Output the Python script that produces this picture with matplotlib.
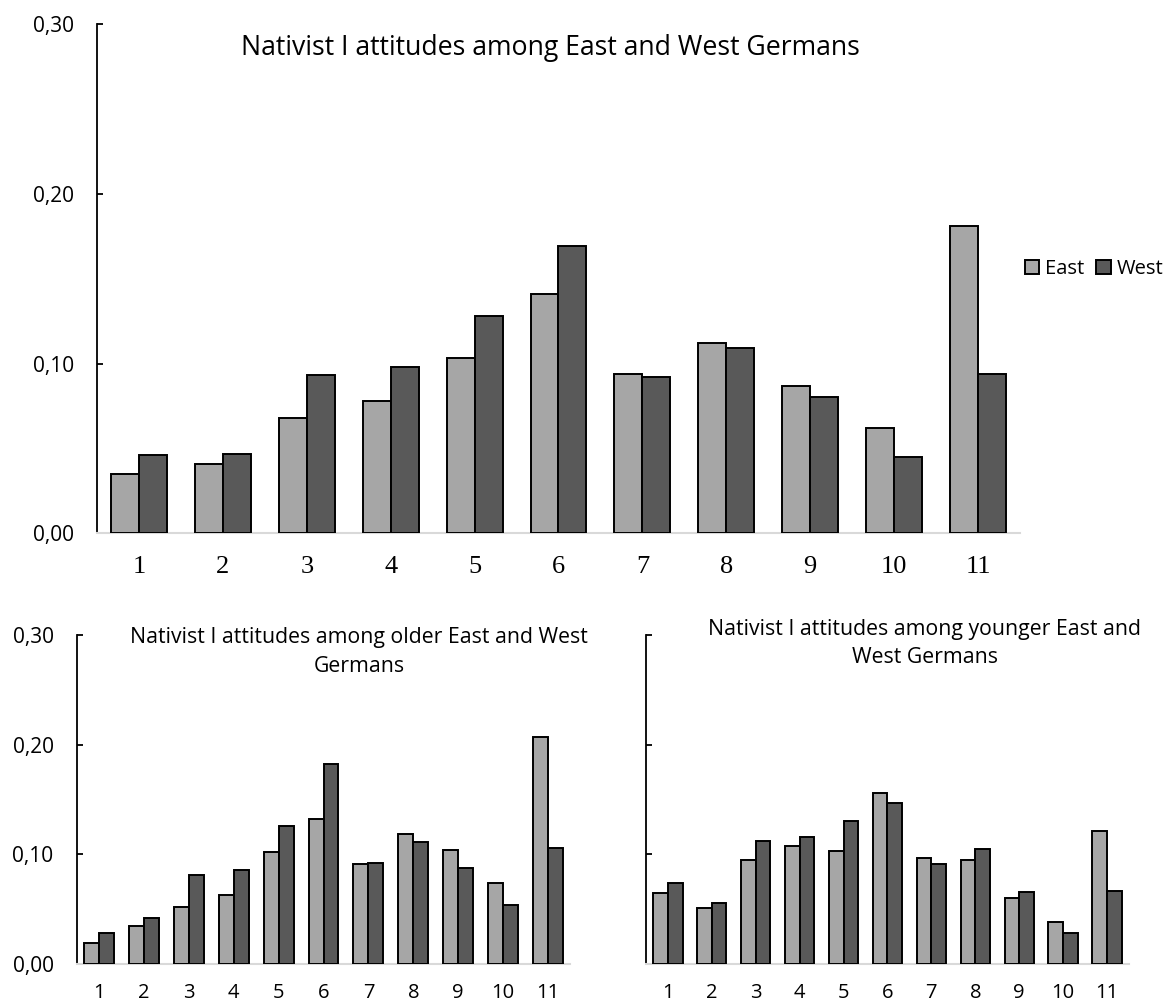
import matplotlib
matplotlib.use("Agg")
import matplotlib.pyplot as plt
from matplotlib.ticker import FuncFormatter
import numpy as np

categories = ["1", "2", "3", "4", "5", "6", "7", "8", "9", "10", "11"]

# all respondents
east_all = [0.035, 0.041, 0.068, 0.078, 0.103, 0.141, 0.094, 0.112, 0.087, 0.062, 0.181]
west_all = [0.046, 0.047, 0.093, 0.098, 0.128, 0.169, 0.092, 0.109, 0.080, 0.045, 0.094]

# older
east_old = [0.019, 0.035, 0.052, 0.063, 0.102, 0.132, 0.091, 0.119, 0.104, 0.074, 0.207]
west_old = [0.028, 0.042, 0.081, 0.086, 0.126, 0.182, 0.092, 0.111, 0.088, 0.054, 0.106]

# younger
east_young = [0.065, 0.051, 0.095, 0.108, 0.103, 0.156, 0.097, 0.095, 0.060, 0.038, 0.121]
west_young = [0.074, 0.056, 0.112, 0.116, 0.130, 0.147, 0.091, 0.105, 0.066, 0.028, 0.067]

yticks = [0.0, 0.1, 0.2, 0.3]

EAST_C = "#a6a6a6"
WEST_C = "#595959"
SANS = "Open Sans"

fig = plt.figure(figsize=(11.7, 10.06), dpi=100)


def comma_fmt(v, pos):
    return f"{v:.2f}".replace(".", ",")


def draw(ax, east, west, show_ylabels=True, serif_x=False, xsize=13):
    x = np.arange(1, len(categories) + 1)
    w = 1 / 3
    ax.bar(x - w / 2, east, w, color=EAST_C, edgecolor="black", linewidth=1.4, label="East", zorder=3)
    ax.bar(x + w / 2, west, w, color=WEST_C, edgecolor="black", linewidth=1.4, label="West", zorder=3)
    ax.set_xlim(0.5, len(categories) + 0.5)
    ax.set_ylim(0, 0.30)
    ax.set_yticks(yticks)
    ax.yaxis.set_major_formatter(FuncFormatter(comma_fmt))
    ax.set_xticks(x)
    if serif_x:
        ax.set_xticklabels(categories, fontfamily="Liberation Serif", fontsize=xsize)
    else:
        ax.set_xticklabels(categories, fontfamily=SANS, fontsize=xsize)
    for s in ["top", "right"]:
        ax.spines[s].set_visible(False)
    ax.spines["left"].set_linewidth(1.3)
    ax.spines["bottom"].set_color("#d9d9d9")
    ax.spines["bottom"].set_linewidth(1.5)
    ax.tick_params(axis="x", length=0, pad=14)
    ax.tick_params(axis="y", direction="in", length=4.5, width=1.3, pad=16.5)
    for t in ax.get_yticklabels():
        t.set_fontfamily(SANS)
        t.set_fontsize(15)
    if not show_ylabels:
        ax.set_yticklabels([])


ax_top = fig.add_axes([0.0829, 0.4699, 0.7889, 0.5062])
draw(ax_top, east_all, west_all, serif_x=True, xsize=19)
ax_top.tick_params(axis="x", pad=16)
fig.text(550 / 1170, 1 - 55 / 1006, "Nativist I attitudes among East and West Germans",
         fontfamily=SANS, fontsize=19.2, ha="center", va="baseline")
ax_top.legend(loc="center left", bbox_to_anchor=(1025 / 1170, 1 - 269 / 1006),
              bbox_transform=fig.transFigure, ncol=2, frameon=False,
              prop={"family": SANS, "size": 14.5}, handlelength=0.7, handleheight=0.7,
              handletextpad=0.3, columnspacing=0.6, borderaxespad=0, borderpad=0)

ax_old = fig.add_axes([0.0654, 0.0417, 0.4222, 0.3270])
draw(ax_old, east_old, west_old, xsize=14.5)
fig.text(359 / 1170, 1 - 643 / 1006, "Nativist I attitudes among older East and West",
         fontfamily=SANS, fontsize=15.3, ha="center", va="baseline")
fig.text(359 / 1170, 1 - 672 / 1006, "Germans",
         fontfamily=SANS, fontsize=15.3, ha="center", va="baseline")

ax_young = fig.add_axes([0.5521, 0.0417, 0.4128, 0.3270])
draw(ax_young, east_young, west_young, show_ylabels=False, xsize=14.5)
fig.text(925 / 1170, 1 - 635 / 1006, "Nativist I attitudes among younger East and",
         fontfamily=SANS, fontsize=15.3, ha="center", va="baseline")
fig.text(925 / 1170, 1 - 663 / 1006, "West Germans",
         fontfamily=SANS, fontsize=15.3, ha="center", va="baseline")

fig.savefig("out.png", dpi=100)
